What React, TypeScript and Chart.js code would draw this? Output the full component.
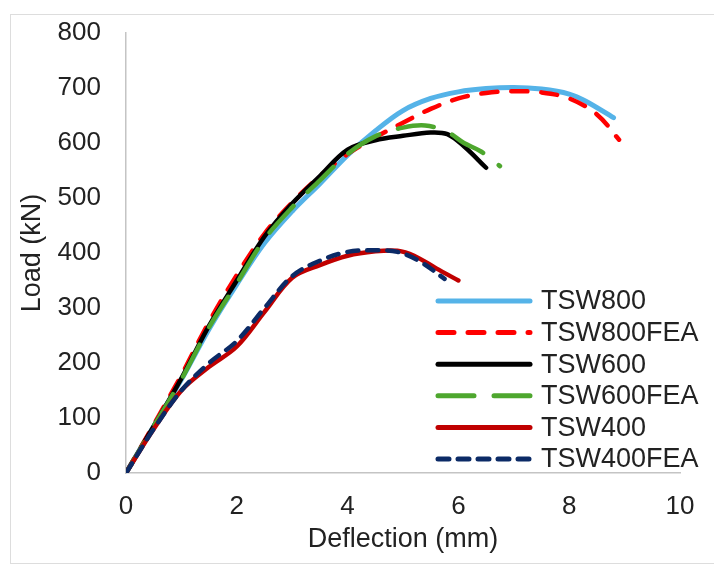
import React, { useEffect, useRef } from "react";
import { Chart, registerables } from "chart.js";

Chart.register(...registerables);

// Deflection (mm) / Load (kN) readings per specimen
const tsw800X = [0, 0.5, 1, 1.5, 2, 2.5, 3, 3.5, 4, 4.5, 5, 5.5, 6, 6.5, 7, 7.5, 8, 8.3, 8.8];
const tsw800Y = [0, 85, 170, 262, 343, 418, 476, 526, 578, 622, 659, 681, 693, 699, 701, 698, 689, 676, 646];

const tsw800feaX = [0, 0.5, 1, 1.5, 2, 2.5, 3, 3.5, 4, 4.5, 5, 5.5, 6, 6.5, 7, 7.5, 8, 8.5, 8.9];
const tsw800feaY = [0, 88, 178, 275, 360, 435, 492, 540, 580, 610, 637, 662, 681, 691, 694, 692, 681, 652, 606];

const tsw600X = [0, 0.5, 1, 1.5, 2, 2.5, 3, 3.5, 4, 4.5, 5, 5.5, 5.8, 6.1, 6.5];
const tsw600Y = [0, 85, 172, 268, 350, 430, 490, 540, 588, 605, 613, 619, 616, 594, 555];

const tsw600feaX = [0, 0.5, 1, 1.5, 2, 2.5, 3, 3.5, 4, 4.5, 5, 5.4, 5.8, 6.1, 6.4, 6.75];
const tsw600feaY = [0, 85, 170, 265, 345, 425, 483, 532, 580, 612, 628, 632, 620, 600, 585, 558];

const tsw400X = [0, 0.5, 1, 1.5, 2, 2.5, 3, 3.5, 4, 4.5, 4.9, 5.2, 5.6, 6.0];
const tsw400Y = [0, 80, 150, 193, 230, 293, 355, 378, 395, 403, 404, 395, 372, 350];

const tsw400feaX = [0, 0.5, 1, 1.5, 2, 2.5, 3, 3.5, 4, 4.5, 4.9, 5.3, 5.75];
const tsw400feaY = [0, 80, 150, 200, 240, 300, 358, 386, 402, 405, 402, 385, 353];

const seriesNames = ["TSW800", "TSW800FEA", "TSW600", "TSW600FEA", "TSW400", "TSW400FEA"];
const seriesColors = ["#55B3E8", "#FF0000", "#000000", "#4EA72E", "#C00000", "#0B2A66"];
const seriesDashes: number[][] = [[], [16, 14], [], [36, 20], [], [11, 9]];

const xTicks = [0, 2, 4, 6, 8, 10];
const yTicks = [0, 100, 200, 300, 400, 500, 600, 700, 800];

const FONT = "'Liberation Sans', Arial, sans-serif";
const TEXT = "#222222";

function pts(xs: number[], ys: number[]) {
  return xs.map((x, i) => ({ x, y: ys[i] }));
}

const legendPlugin = {
  id: "insideLegend",
  afterDraw(chart: any) {
    const { ctx, chartArea } = chart;
    const sx = chartArea.left + 312;
    const ex = chartArea.left + 404;
    const tx = chartArea.left + 415;
    const y0 = chartArea.top + 268;
    const step = 31.6;
    ctx.save();
    seriesNames.forEach((name, i) => {
      const y = y0 + i * step;
      ctx.beginPath();
      ctx.strokeStyle = seriesColors[i];
      ctx.lineWidth = 5;
      ctx.lineCap = "round";
      ctx.setLineDash(seriesDashes[i]);
      ctx.moveTo(sx, y);
      ctx.lineTo(ex, y);
      ctx.stroke();
      ctx.setLineDash([]);
      ctx.fillStyle = TEXT;
      ctx.font = `27px ${FONT}`;
      ctx.textAlign = "left";
      ctx.textBaseline = "middle";
      ctx.fillText(name, tx, y + 1);
    });
    ctx.restore();
  },
};

function zeroPad(s: any) {
  s.paddingTop = 0;
  s.paddingBottom = 0;
  s.paddingLeft = 0;
  s.paddingRight = 0;
}

export default function App() {
  const ref = useRef<HTMLCanvasElement>(null);

  useEffect(() => {
    document.body.style.margin = "0";
    const xs = [tsw800X, tsw800feaX, tsw600X, tsw600feaX, tsw400X, tsw400feaX];
    const ys = [tsw800Y, tsw800feaY, tsw600Y, tsw600feaY, tsw400Y, tsw400feaY];
    const chart = new Chart(ref.current!, {
      type: "line",
      data: {
        datasets: seriesNames.map((name, i) => ({
          label: name,
          data: pts(xs[i], ys[i]),
          borderColor: seriesColors[i],
          backgroundColor: seriesColors[i],
          borderWidth: i === 0 ? 5 : 4.5,
          borderDash: seriesDashes[i],
          borderCapStyle: "round" as const,
          borderJoinStyle: "round" as const,
          pointRadius: 0,
          tension: 0.35,
          fill: false,
          order: 6 - i,
        })),
      },
      options: {
        animation: false,
        responsive: false,
        devicePixelRatio: 1,
        layout: { padding: { left: 12, top: 33, right: 34, bottom: 12 } },
        plugins: { legend: { display: false }, tooltip: { enabled: false } },
        scales: {
          x: {
            type: "linear",
            min: 0,
            max: 10,
            afterBuildTicks: (s: any) => {
              s.ticks = xTicks.map((v) => ({ value: v }));
            },
            afterFit: (s: any) => {
              s.height = 83;
              zeroPad(s);
            },
            grid: { display: false, drawTicks: false },
            border: { display: true, color: "#C4C4C4", width: 1.5 },
            ticks: { color: TEXT, font: { family: FONT, size: 26 }, padding: 18 },
            title: {
              display: true,
              text: "Deflection (mm)",
              color: TEXT,
              font: { family: FONT, size: 27 },
              padding: { top: 0, bottom: 0 },
            },
          },
          y: {
            type: "linear",
            min: 0,
            max: 800,
            afterBuildTicks: (s: any) => {
              s.ticks = yTicks.map((v) => ({ value: v }));
            },
            afterFit: (s: any) => {
              s.width = 114;
              zeroPad(s);
            },
            grid: { display: false, drawTicks: false },
            border: { display: true, color: "#C4C4C4", width: 1.5 },
            ticks: { color: TEXT, font: { family: FONT, size: 26 }, padding: 25 },
            title: {
              display: true,
              text: "Load (kN)",
              color: TEXT,
              font: { family: FONT, size: 27 },
              padding: { top: 4, bottom: 0 },
            },
          },
        },
      },
      plugins: [legendPlugin],
    });
    return () => chart.destroy();
  }, []);

  return (
    <div style={{ position: "relative", width: 714, height: 568, background: "#fff", overflow: "hidden" }}>
      <div
        style={{
          position: "absolute",
          left: 10,
          top: 14,
          width: 720,
          height: 550,
          border: "1px solid #DDDDDD",
          boxSizing: "border-box",
        }}
      />
      <canvas ref={ref} width={714} height={568} style={{ position: "absolute", left: 0, top: 0 }} />
    </div>
  );
}
